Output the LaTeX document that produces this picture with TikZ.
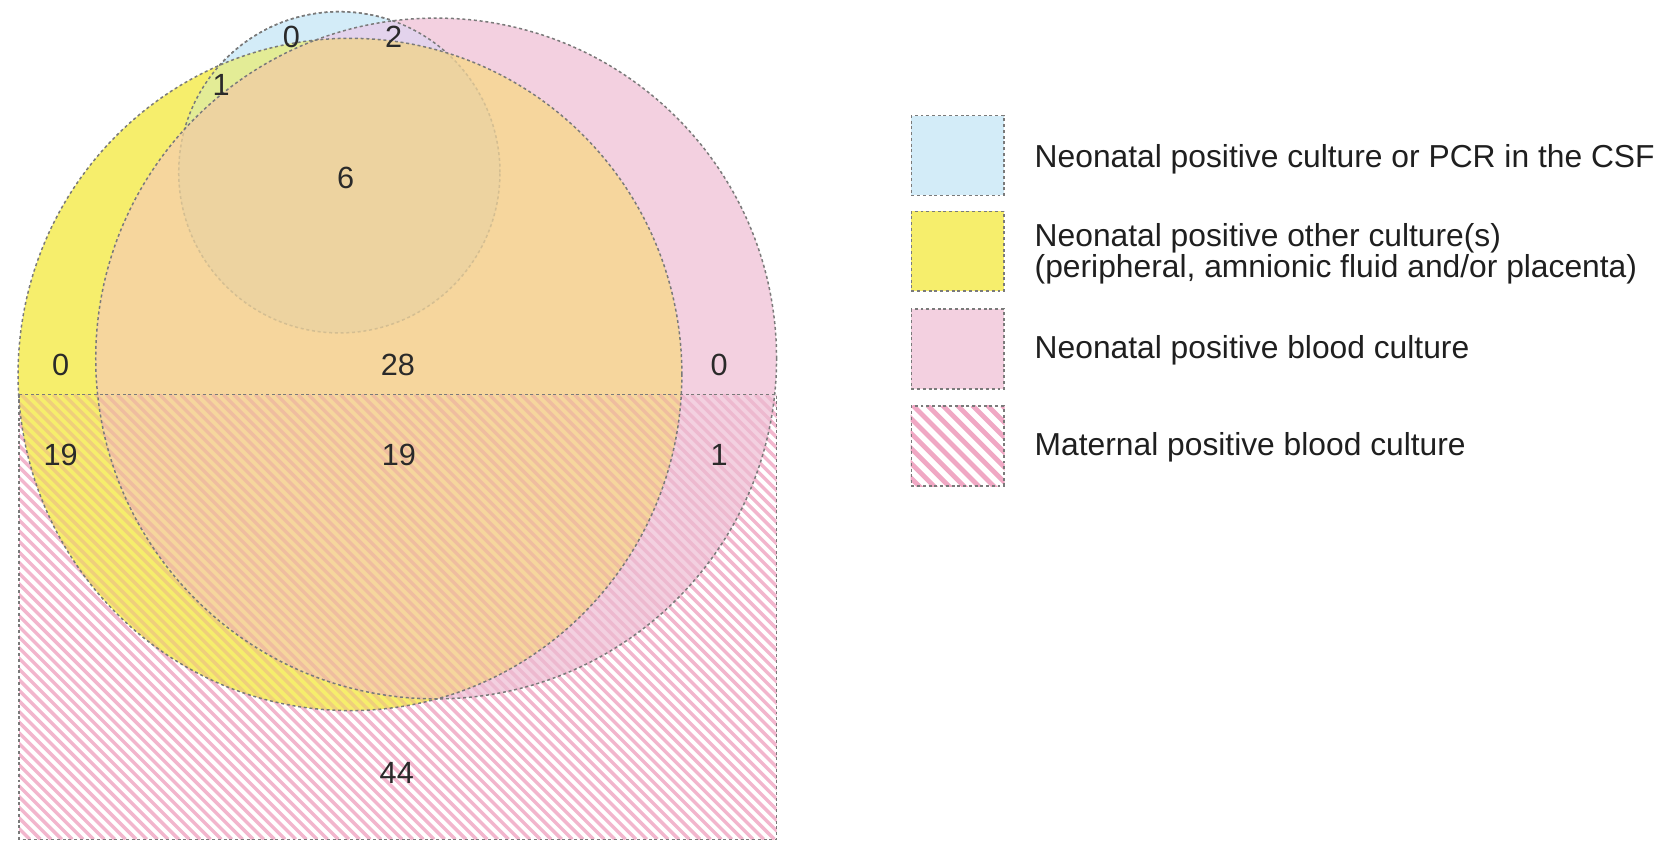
\documentclass[tikz,border=0pt]{standalone}
\usepackage{fontspec}
\setmainfont{Liberation Sans}
\definecolor{cblue}{HTML}{D3ECF8}
\definecolor{cyellow}{HTML}{F6EE6C}
\definecolor{cpink}{HTML}{F3D0E0}
\definecolor{corange}{HTML}{F6D69D}
\definecolor{ctan}{HTML}{EDD3A0}
\definecolor{clav}{HTML}{E3D3EC}
\definecolor{cgreen}{HTML}{E3EC96}
\definecolor{cline}{HTML}{7A7A7A}
\definecolor{cfaint}{HTML}{D4BE92}
\definecolor{chatch}{HTML}{F2B6CD}
\definecolor{chatchw}{HTML}{E07FA5}
\definecolor{clegh}{HTML}{F0A8C4}
\definecolor{cnum}{HTML}{2A2A2A}
\begin{document}
\begin{tikzpicture}[x=0.1mm,y=-0.1mm,
  outline/.style={draw=cline, line width=0.4pt, dash pattern=on 0.28mm off 0.26mm},
  faintline/.style={draw=cfaint, line width=0.4pt, dash pattern=on 0.28mm off 0.26mm},
  num/.style={font=\fontsize{8.2}{9}\selectfont, text=cnum, inner sep=0pt},
  legtext/.style={font=\fontsize{8.5}{10}\selectfont, text=black!88, anchor=base west, inner sep=0pt},
  legbox/.style={outline, minimum width=8.7mm, minimum height=7.5mm, anchor=north west, inner sep=0pt},
  stripe/.style={draw=chatch, line width=0.32mm},
  weakstripe/.style={draw=chatchw, line width=0.32mm, opacity=0.28},
]
\useasboundingbox (0,0) rectangle (1568,795.3);
\coordinate (cB) at (319,162);
\coordinate (cY) at (329,352);
\coordinate (cP) at (410,337);
\coordinate (rTL) at (18,371);
\coordinate (rBR) at (730,789);
\coordinate (bigA) at (-200,-200);
\coordinate (bigB) at (1800,1000);

% strong hatch of the maternal rectangle
\begin{scope}
  \clip (rTL) rectangle (rBR);
  \foreach \i in {-440,-430,...,730} \draw[stripe] (\i,371) -- ++(418,418);
\end{scope}

% fills
\fill[cblue] (cB) circle[radius=15.1mm];
\fill[cyellow] (cY) ellipse[x radius=31.2mm, y radius=31.6mm];
\begin{scope}
  \clip (cY) ellipse[x radius=31.2mm, y radius=31.6mm];
  \fill[cgreen] (cB) circle[radius=15.1mm];
\end{scope}
\fill[cpink] (cP) circle[radius=32mm];
\begin{scope}
  \clip (cP) circle[radius=32mm];
  \fill[clav] (cB) circle[radius=15.1mm];
  \clip (cY) ellipse[x radius=31.2mm, y radius=31.6mm];
  \fill[corange] (cP) circle[radius=32mm];
  \fill[ctan] (cB) circle[radius=15.1mm];
\end{scope}

% weak hatch over the circles inside the rectangle
\begin{scope}
  \clip (rTL) rectangle (rBR);
  \clip (cY) ellipse[x radius=31.2mm, y radius=31.6mm] (cP) circle[radius=32mm];
  \foreach \i in {-440,-430,...,730} \draw[weakstripe] (\i,371) -- ++(418,418);
\end{scope}

% outlines
\begin{scope}[even odd rule]
  \clip (bigA) rectangle (bigB) (cY) ellipse[x radius=31.2mm, y radius=31.6mm];
  \draw[outline] (cB) circle[radius=15.1mm];
\end{scope}
\begin{scope}[even odd rule]
  \clip (bigA) rectangle (bigB) (cP) circle[radius=32mm];
  \draw[outline] (cB) circle[radius=15.1mm];
\end{scope}
\begin{scope}
  \clip (cY) ellipse[x radius=31.2mm, y radius=31.6mm];
  \clip (cP) circle[radius=32mm];
  \draw[faintline] (cB) circle[radius=15.1mm];
\end{scope}
\draw[outline] (cY) ellipse[x radius=31.2mm, y radius=31.6mm];
\draw[outline] (cP) circle[radius=32mm];
\draw[outline] (rTL) rectangle (rBR);

% counts
\node[num] (n0a) at (274,35) {0};
\node[num] (n2) at (370,35) {2};
\node[num] (n1a) at (208,80) {1};
\node[num] (n6) at (325,167) {6};
\node[num] (n0b) at (57,343) {0};
\node[num] (n28) at (374,343) {28};
\node[num] (n0c) at (676,343) {0};
\node[num] (n19a) at (57,428) {19};
\node[num] (n19b) at (375,428) {19};
\node[num] (n1b) at (676,428) {1};
\node[num] (n44) at (373,727) {44};

% legend
\node[legbox, fill=cblue] (lb1) at (856,108) {};
\node[legbox, fill=cyellow] (lb2) at (856,198) {};
\node[legbox, fill=cpink] (lb3) at (856,290) {};
\node[legbox] (lb4) at (856,381) {};
\begin{scope}
  \clip (lb4.north west) rectangle (lb4.south east);
  \foreach \i in {760,774,...,960} \draw[draw=clegh, line width=0.45mm] (\i,381) -- ++(80,80);
\end{scope}
\node[legbox] at (lb4.north west) {};

\node[legtext] (t1) at (972,157) {Neonatal positive culture or PCR in the CSF};
\node[legtext] (t2a) at (972,232) {Neonatal positive other culture(s)};
\node[legtext] (t2b) at (972,261) {(peripheral, amnionic fluid and/or placenta)};
\node[legtext] (t3) at (972,337) {Neonatal positive blood culture};
\node[legtext] (t4) at (972,428) {Maternal positive blood culture};
\end{tikzpicture}
\end{document}
